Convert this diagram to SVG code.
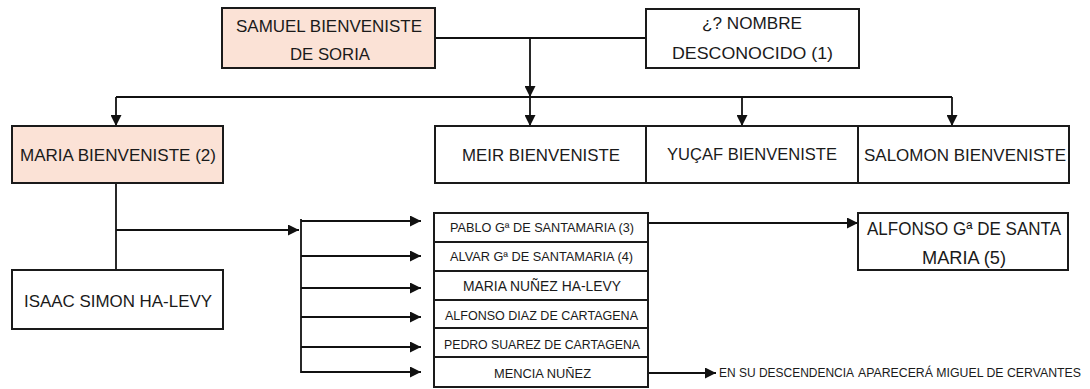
<svg xmlns="http://www.w3.org/2000/svg" width="1090" height="389" viewBox="0 0 1090 389">
<style>
.box{fill:#ffffff;stroke:#1a1a1a;stroke-width:2}
.peach{fill:#fbe2d6}
.t{font-family:"Liberation Sans",Arial,sans-serif;fill:#1a1a1a}
.c{fill:none;stroke:#111;stroke-width:1.8}
</style>
<defs>
<marker id="ah" markerUnits="userSpaceOnUse" markerWidth="11" markerHeight="11" refX="10" refY="5" orient="auto" viewBox="0 0 10 10">
<path d="M0,0 L10,5 L0,10 z" fill="#111"/>
</marker>
</defs>
<rect width="1090" height="389" fill="#ffffff"/>

<g id="connectors">
<line class="c" x1="435" y1="38" x2="646" y2="38"/>
<line class="c" x1="530" y1="38" x2="530" y2="97" marker-end="url(#ah)"/>
<line class="c" x1="116" y1="97" x2="952" y2="97"/>
<line class="c" x1="116" y1="97" x2="116" y2="126" marker-end="url(#ah)"/>
<line class="c" x1="530" y1="97" x2="530" y2="126" marker-end="url(#ah)"/>
<line class="c" x1="742" y1="97" x2="742" y2="126" marker-end="url(#ah)"/>
<line class="c" x1="952" y1="97" x2="952" y2="126" marker-end="url(#ah)"/>
<line class="c" x1="116" y1="183" x2="116" y2="270"/>
<line class="c" x1="116" y1="230" x2="299" y2="230" marker-end="url(#ah)"/>
<line class="c" x1="301" y1="219" x2="301" y2="373"/>
<line class="c" x1="301" y1="221" x2="421" y2="221" marker-end="url(#ah)"/>
<line class="c" x1="301" y1="256" x2="421" y2="256" marker-end="url(#ah)"/>
<line class="c" x1="301" y1="288" x2="421" y2="288" marker-end="url(#ah)"/>
<line class="c" x1="301" y1="317" x2="421" y2="317" marker-end="url(#ah)"/>
<line class="c" x1="301" y1="347" x2="421" y2="347" marker-end="url(#ah)"/>
<line class="c" x1="301" y1="372" x2="421" y2="372" marker-end="url(#ah)"/>
<line class="c" x1="648" y1="223" x2="858" y2="223" marker-end="url(#ah)"/>
<line class="c" x1="648" y1="373" x2="716" y2="373" marker-end="url(#ah)"/>
</g>

<g id="samuel">
<rect class="box peach" x="222" y="8" width="213" height="60"/>
<text class="t" x="236" y="32" font-size="17" textLength="186" lengthAdjust="spacingAndGlyphs">SAMUEL BIENVENISTE</text>
<text class="t" x="290" y="60" font-size="17" textLength="80" lengthAdjust="spacingAndGlyphs">DE SORIA</text>
</g>

<g id="nombre">
<rect class="box" x="646" y="9" width="213" height="59"/>
<text class="t" x="702" y="29" font-size="17" textLength="100" lengthAdjust="spacingAndGlyphs">¿? NOMBRE</text>
<text class="t" x="672" y="59" font-size="17" textLength="161" lengthAdjust="spacingAndGlyphs">DESCONOCIDO (1)</text>
</g>

<g id="maria">
<rect class="box peach" x="12" y="126" width="211" height="57"/>
<text class="t" x="20" y="161" font-size="17" textLength="196" lengthAdjust="spacingAndGlyphs">MARIA BIENVENISTE (2)</text>
</g>

<g id="meir">
<rect class="box" x="435" y="126" width="211" height="57"/>
<text class="t" x="462" y="161" font-size="17" textLength="158" lengthAdjust="spacingAndGlyphs">MEIR BIENVENISTE</text>
</g>

<g id="yucaf">
<rect class="box" x="646" y="126" width="212" height="57"/>
<text class="t" x="667" y="160" font-size="17" textLength="170" lengthAdjust="spacingAndGlyphs">YUÇAF BIENVENISTE</text>
</g>

<g id="salomon">
<rect class="box" x="858" y="126" width="211" height="57"/>
<text class="t" x="864" y="161" font-size="17" textLength="202" lengthAdjust="spacingAndGlyphs">SALOMON BIENVENISTE</text>
</g>

<g id="isaac">
<rect class="box" x="12" y="270" width="211" height="59"/>
<text class="t" x="24" y="307" font-size="17" textLength="188" lengthAdjust="spacingAndGlyphs">ISAAC SIMON HA-LEVY</text>
</g>

<g id="pablo">
<rect class="box" x="434" y="213" width="214" height="29"/>
<text class="t" x="450" y="232" font-size="13" textLength="184" lengthAdjust="spacingAndGlyphs">PABLO Gª DE SANTAMARIA (3)</text>
</g>

<g id="alvar">
<rect class="box" x="434" y="242" width="214" height="29"/>
<text class="t" x="450" y="261" font-size="13" textLength="183" lengthAdjust="spacingAndGlyphs">ALVAR Gª DE SANTAMARIA (4)</text>
</g>

<g id="maria-nunez">
<rect class="box" x="434" y="271" width="214" height="29"/>
<text class="t" x="463" y="291" font-size="15" textLength="158" lengthAdjust="spacingAndGlyphs">MARIA NUÑEZ HA-LEVY</text>
</g>

<g id="alfonso-diaz">
<rect class="box" x="434" y="300" width="214" height="28"/>
<text class="t" x="445" y="320" font-size="13.5" textLength="193" lengthAdjust="spacingAndGlyphs">ALFONSO DIAZ DE CARTAGENA</text>
</g>

<g id="pedro">
<rect class="box" x="434" y="328" width="214" height="29"/>
<text class="t" x="444" y="349" font-size="13.5" textLength="196" lengthAdjust="spacingAndGlyphs">PEDRO SUAREZ DE CARTAGENA</text>
</g>

<g id="mencia">
<rect class="box" x="434" y="357" width="214" height="30"/>
<text class="t" x="494" y="378" font-size="13.5" textLength="97" lengthAdjust="spacingAndGlyphs">MENCIA NUÑEZ</text>
</g>

<g id="alfonso-santa-maria">
<rect class="box" x="858" y="213" width="210" height="57"/>
<text class="t" x="867" y="235" font-size="18" textLength="194" lengthAdjust="spacingAndGlyphs">ALFONSO Gª DE SANTA</text>
<text class="t" x="922" y="264" font-size="18" textLength="84" lengthAdjust="spacingAndGlyphs">MARIA (5)</text>
</g>

<g id="nota">
<text class="t" y="377" font-size="12"><tspan x="719" textLength="135" lengthAdjust="spacingAndGlyphs">EN SU DESCENDENCIA</tspan><tspan x="858" textLength="223" lengthAdjust="spacingAndGlyphs">APARECERÁ MIGUEL DE CERVANTES</tspan></text>
</g>
</svg>
